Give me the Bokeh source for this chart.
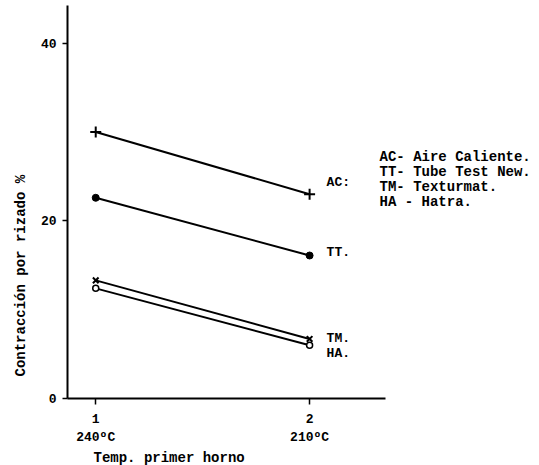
from bokeh.plotting import figure
from bokeh.models import Range1d, Label, FixedTicker, Title
from bokeh.embed import file_html
from bokeh.resources import INLINE

# ---- data ----
x_ticks = [1, 2]
x_tick_labels = ["1", "2"]
temp_labels = ["240ºC", "210ºC"]
ac = [30.0, 23.0]
tt = [22.6, 16.1]
tm = [13.3, 6.7]
ha = [12.4, 6.0]
end_names = ["AC:", "TT.", "TM.", "HA."]
legend_lines = ["AC- Aire Caliente.", "TT- Tube Test New.", "TM- Texturmat.", "HA - Hatra."]
y_ticks = [0, 20, 40]
x_title = "Temp. primer horno"
y_title = "Contracción por rizado %"

FONT = "Liberation Mono"

p = figure(width=539, height=465, output_backend="svg", toolbar_location=None,
           x_range=Range1d(0.868, 3.075), y_range=Range1d(0, 44.25),
           min_border_left=67, min_border_right=0, min_border_top=5,
           min_border_bottom=64)
p.outline_line_color = None
p.xgrid.grid_line_color = None
p.ygrid.grid_line_color = None

for ax in (p.xaxis[0], p.yaxis[0]):
    ax.axis_line_color = "black"
    ax.axis_line_width = 2
    ax.major_tick_line_color = "black"
    ax.major_tick_line_width = 1.5
    ax.minor_tick_line_color = None
    ax.major_tick_in = 0
    ax.major_label_text_font = FONT
    ax.major_label_text_font_style = "bold"
    ax.major_label_text_font_size = "13px"
    ax.major_label_text_color = "black"

p.xaxis.ticker = FixedTicker(ticks=x_ticks)
p.xaxis.major_label_overrides = {t: f"{l}\n{tl}" for t, l, tl in zip(x_ticks, x_tick_labels, temp_labels)}
p.xaxis.major_tick_out = 6
p.xaxis.major_label_standoff = 7
p.xaxis.bounds = (0.868, 2.355)

p.yaxis.ticker = FixedTicker(ticks=y_ticks)
p.yaxis.major_tick_out = 5
p.yaxis.major_label_standoff = 6

# axis titles as side titles
p.add_layout(Title(text=x_title, align="left", offset=26, standoff=0, text_color="black",
                   text_font=FONT, text_font_style="bold", text_font_size="14px"), "below")
p.add_layout(Title(text=y_title, align="left", offset=22, standoff=18, text_color="black",
                   text_font=FONT, text_font_style="bold", text_font_size="14px"), "left")

# ---- series ----
lw = 2
p.line(x_ticks, ac, line_color="black", line_width=lw)
p.scatter(x_ticks, ac, marker="cross", size=11, line_color="black", line_width=2)
p.line(x_ticks, tt, line_color="black", line_width=lw)
p.scatter(x_ticks, tt, marker="circle", size=7, fill_color="black", line_color="black")
p.line(x_ticks, tm, line_color="black", line_width=lw)
p.scatter(x_ticks, tm, marker="x", size=8, line_color="black", line_width=2)
p.line(x_ticks, ha, line_color="black", line_width=lw)
p.scatter(x_ticks, ha, marker="circle", size=6, fill_color="white", line_color="black", line_width=1.5)

# end labels
end_vals = [ac[1], tt[1], tm[1], ha[1]]
end_offsets = [12, 3, 0, -8]
for name, v, off in zip(end_names, end_vals, end_offsets):
    p.add_layout(Label(x=x_ticks[1], y=v, x_offset=17, y_offset=off, text=name,
                       text_font=FONT, text_font_style="bold", text_font_size="13px",
                       text_baseline="middle", text_align="left", text_color="black"))

# legend text block
for i, line in enumerate(legend_lines):
    p.add_layout(Label(x=2.327, y=27.15, y_offset=-15 * i, text=line,
                       text_font=FONT, text_font_style="bold", text_font_size="14px",
                       text_baseline="middle", text_align="left", text_color="black"))

open("out.html", "w").write(file_html(p, INLINE))
